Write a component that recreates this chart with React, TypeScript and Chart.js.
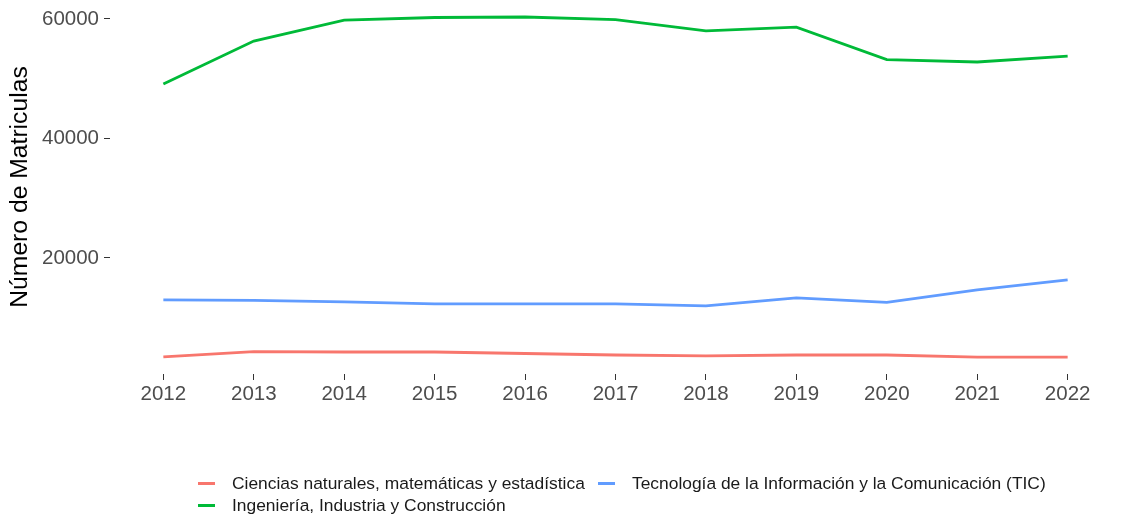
import React, { useEffect, useRef } from "react";
import { Chart, registerables } from "chart.js";

Chart.register(...registerables);

const years = [2012, 2013, 2014, 2015, 2016, 2017, 2018, 2019, 2020, 2021, 2022];
const ciencias = [3430, 4300, 4250, 4250, 4000, 3750, 3600, 3750, 3750, 3400, 3400];
const ingenieria = [49100, 56300, 59800, 60250, 60335, 59900, 58000, 58650, 53200, 52800, 53800];
const tic = [12970, 12890, 12640, 12300, 12300, 12300, 11970, 13300, 12550, 14640, 16320];
const yTicks = [20000, 40000, 60000];

const seriesNames = [
  "Ciencias naturales, matemáticas y estadística",
  "Ingeniería, Industria y Construcción",
  "Tecnología de la Información y la Comunicación (TIC)",
];
const seriesColors = ["#F8766D", "#00BA38", "#619CFF"];

const FONT = "'Liberation Sans', Arial, Helvetica, sans-serif";

export default function App() {
  const ref = useRef<HTMLCanvasElement | null>(null);

  useEffect(() => {
    if (!ref.current) return;
    const allData = [ciencias, ingenieria, tic];
    const chart = new Chart(ref.current, {
      type: "line",
      data: {
        datasets: allData.map((arr, i) => ({
          label: seriesNames[i],
          data: arr.map((v, j) => ({ x: years[j], y: v })),
          borderColor: seriesColors[i],
          backgroundColor: seriesColors[i],
          borderWidth: 2.8,
          pointRadius: 0,
          tension: 0,
          fill: false,
        })),
      },
      options: {
        responsive: false,
        animation: false,
        devicePixelRatio: 1,
        layout: { padding: 0 },
        plugins: {
          legend: { display: false },
          tooltip: { enabled: false },
        },
        scales: {
          x: {
            type: "linear",
            min: 2011.41,
            max: 2022.59,
            afterBuildTicks: (s: any) => {
              s.ticks = years.map((v) => ({ value: v }));
            },
            afterFit: (s: any) => {
              s.height = 516 - 374;
              s.paddingLeft = 0;
              s.paddingRight = 0;
            },
            ticks: {
              color: "#4D4D4D",
              font: { family: FONT, size: 20.5 },
              padding: 2,
              autoSkip: false,
              maxRotation: 0,
              callback: (v: any) => String(v),
            },
            grid: {
              drawOnChartArea: false,
              drawTicks: true,
              tickLength: 6,
              tickColor: "#333333",
              tickWidth: 1,
            },
            border: { display: false },
          },
          y: {
            min: 570,
            max: 63180,
            afterBuildTicks: (s: any) => {
              s.ticks = yTicks.map((v) => ({ value: v }));
            },
            afterFit: (s: any) => {
              s.width = 110;
              s.paddingTop = 0;
              s.paddingBottom = 0;
            },
            ticks: {
              color: "#4D4D4D",
              font: { family: FONT, size: 20.5 },
              padding: 5,
              callback: (v: any) => String(v),
            },
            grid: {
              drawOnChartArea: false,
              drawTicks: true,
              tickLength: 6,
              tickColor: "#333333",
              tickWidth: 1,
            },
            border: { display: false },
            title: {
              display: true,
              text: "Número de Matriculas",
              color: "#000000",
              font: { family: FONT, size: 24.7 },
              padding: { top: 5, bottom: 0 },
            },
          },
        },
      },
    });
    return () => chart.destroy();
  }, []);

  const legendItem = (i: number, left: number, top: number) => (
    <div
      key={i}
      style={{
        position: "absolute",
        left,
        top: top - 11,
        height: 22,
        display: "flex",
        alignItems: "center",
        whiteSpace: "nowrap",
      }}
    >
      <div
        style={{
          width: 17,
          height: 3,
          background: seriesColors[i],
          marginRight: 17,
        }}
      />
      <span style={{ fontFamily: FONT, fontSize: 17.4, color: "#1A1A1A" }}>
        {seriesNames[i]}
      </span>
    </div>
  );

  return (
    <div
      style={{
        position: "absolute",
        left: 0,
        top: 0,
        width: 1121,
        height: 516,
        background: "#ffffff",
        overflow: "hidden",
      }}
    >
      <canvas ref={ref} width={1121} height={516} style={{ display: "block" }} />
      {legendItem(0, 198, 483)}
      {legendItem(2, 598, 483)}
      {legendItem(1, 198, 505)}
    </div>
  );
}
